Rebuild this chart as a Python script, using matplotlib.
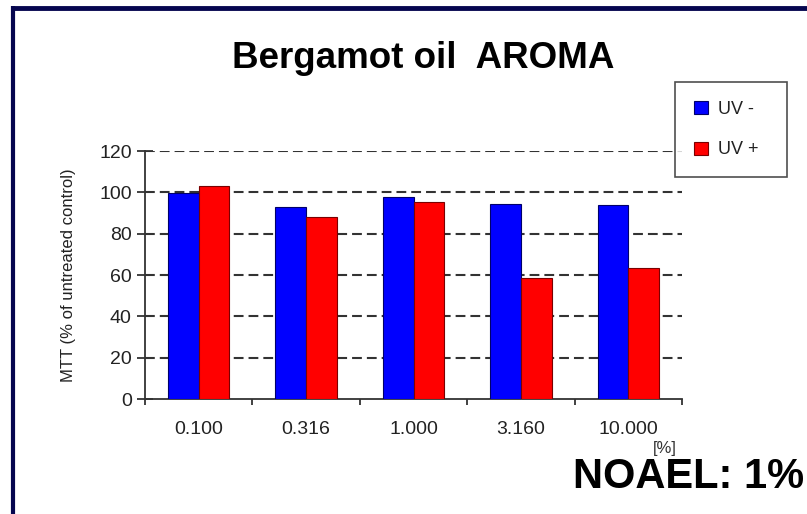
import matplotlib.pyplot as plt
from matplotlib.lines import Line2D
import numpy as np

plt.rcParams['font.family'] = ['Liberation Sans', 'DejaVu Sans']

# Data
concentrations = ['0.100', '0.316', '1.000', '3.160', '10.000']
uv_minus = [99.5, 92.7, 97.9, 94.5, 93.7]
uv_plus = [103, 88.2, 95.3, 58.5, 63.5]
y_ticks = [0, 20, 40, 60, 80, 100, 120]

W, H = 807, 514
fig = plt.figure(figsize=(W / 100, H / 100), dpi=100)
ax = fig.add_axes([145 / W, 1 - 399 / H, 537 / W, 248 / H])

x = np.arange(len(concentrations))
bw = 0.286
ax.bar(x - bw / 2, uv_minus, bw, color='#0000ff', edgecolor='#00006a', linewidth=0.8,
       label='UV -', zorder=3)
ax.bar(x + bw / 2, uv_plus, bw, color='#ff0000', edgecolor='#7a0000', linewidth=0.8,
       label='UV +', zorder=3)

ax.set_xlim(-0.5, len(concentrations) - 0.5)
ax.set_ylim(0, 120)

# dashed grid
for yv in y_ticks[1:]:
    ax.axhline(yv, color='#333333', lw=1.5, dashes=(4.7, 2.4), zorder=1)

for s in ['top', 'right']:
    ax.spines[s].set_visible(False)
for s in ['left', 'bottom']:
    ax.spines[s].set_color('#333333')
    ax.spines[s].set_linewidth(1.3)

ax.set_yticks(y_ticks)
ax.tick_params(axis='y', direction='inout', length=11, width=1.3, color='#333333',
               labelsize=14, labelcolor='#222222', pad=4)
ax.set_xticks(x)
ax.set_xticklabels(concentrations)
ax.set_xticks(np.arange(-0.5, len(concentrations)), minor=True)
ax.tick_params(axis='x', which='major', length=0, labelsize=14, labelcolor='#222222', pad=16)
ax.tick_params(axis='x', which='minor', direction='out', length=4.5, width=1.3, color='#333333')

ax.set_ylabel('MTT (% of untreated control)', fontsize=12, color='#222222', labelpad=17)

leg = fig.legend(loc='upper left', bbox_to_anchor=(675 / W, 1 - 82 / H - 0.01, 112 / W, 0.01),
                 mode='expand', fontsize=13,
                 frameon=True, fancybox=False, handlelength=0.75, handleheight=0.75,
                 handletextpad=0.6, labelspacing=1.3, borderpad=1.05, borderaxespad=0)
leg.get_frame().set_edgecolor('#222222')
leg.get_frame().set_linewidth(1.2)
for t in leg.get_texts():
    t.set_color('#222222')

fig.text(423 / W, 1 - 68 / H, 'Bergamot oil  AROMA', fontsize=26.5, fontweight='bold',
         ha='center', va='baseline')
fig.text(665 / W, 1 - 449 / H, '[%]', fontsize=12, ha='center', va='center', color='#333333')
fig.text(573 / W, 1 - 488 / H, 'NOAEL: 1%', fontsize=30, fontweight='bold',
         ha='left', va='baseline')

# navy frame (top and left edges)
navy = '#06064f'
fig.add_artist(Line2D([11 / W, 1], [1 - 7.5 / H, 1 - 7.5 / H], color=navy, lw=3.5,
                      transform=fig.transFigure, solid_capstyle='butt'))
fig.add_artist(Line2D([12.5 / W, 12.5 / W], [0, 1 - 5.5 / H], color=navy, lw=3,
                      transform=fig.transFigure, solid_capstyle='butt'))

fig.savefig('out.png', dpi=100)
